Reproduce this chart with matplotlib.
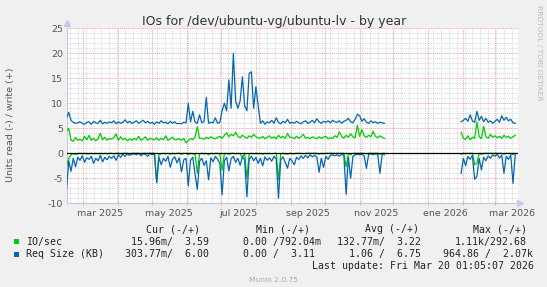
import numpy as np
import pandas as pd
import matplotlib
matplotlib.use('Agg')
import matplotlib.pyplot as plt
import matplotlib.dates as mdates
from matplotlib.patches import Rectangle

W, H = 547, 287
nan = np.nan

# ---------------- data (2-day samples, 2025-02-14 .. 2026-03-19) ----------------
start_date = '2025-02-14'
n_points = 200
gap_len = 33  # no data from late Nov 2025 to end of Jan 2026

req_write_a = [
    7.0, 8.2, 6.6, 6.2, 6.0, 6.1, 6.3, 6.0, 5.8, 6.2,
    6.3, 5.8, 6.4, 6.1, 6.0, 6.6, 5.9, 6.2, 6.0, 6.3,
    6.1, 6.5, 5.9, 6.3, 6.0, 6.2, 6.7, 6.1, 6.4, 6.0,
    6.2, 6.5, 6.0, 6.3, 6.6, 6.1, 6.4, 6.0, 6.2, 5.8,
    6.3, 6.0, 6.5, 6.1, 6.2, 5.9, 6.4, 6.0, 6.3, 5.9,
    6.0, 5.9, 6.2, 6.1, 10.0, 6.3, 8.4, 6.2, 6.0, 7.7,
    6.1, 6.4, 11.2, 6.0, 6.2, 6.1, 7.1, 6.0, 6.2, 8.5,
    10.0, 8.5, 14.7, 9.0, 20.0, 10.5, 9.0, 10.5, 15.3, 9.5,
    8.5, 16.0, 16.3, 9.0, 13.3, 9.5, 6.0, 6.5, 5.8, 6.3,
    6.1, 6.6, 6.0, 7.1, 6.2, 5.9, 6.4, 6.1, 6.8, 6.0,
    6.2, 6.0, 6.4, 6.1, 5.9, 6.3, 6.5, 6.0, 6.2, 6.6,
    6.1, 6.9, 6.3, 6.0, 6.4, 6.2, 6.5, 6.1, 6.6, 6.3,
    6.2, 6.5, 6.0, 6.4, 6.6, 7.0, 6.3, 6.1, 6.8, 7.8,
    7.5, 6.4, 6.9, 6.2, 6.0, 6.5, 6.1, 6.3, 6.0, 6.2, 6.1, 6.0,
]
req_write_b = [
    6.3, 6.6, 7.0, 6.4, 7.7, 6.5, 6.2, 8.4, 6.6, 7.4,
    6.3, 7.0, 6.2, 6.5, 6.0, 6.4, 6.8, 6.2, 7.5, 6.6,
    7.2, 6.5, 6.8, 6.1, 6.0,
]

io_write_a = [
    4.4, 5.0, 2.6, 2.4, 3.2, 2.6, 2.8, 2.5, 3.4, 2.7,
    3.6, 2.6, 3.0, 2.5, 2.9, 4.0, 2.7, 3.2, 2.6, 3.0,
    2.8, 3.1, 3.9, 2.6, 3.3, 2.7, 3.0, 2.5, 2.9, 2.6,
    3.0, 2.7, 3.4, 2.6, 2.9, 3.3, 2.6, 3.0, 2.8, 2.7,
    3.1, 2.6, 3.0, 2.7, 3.5, 2.6, 2.9, 3.2, 2.7, 2.8,
    2.9, 2.6, 3.0, 2.1, 2.5, 3.0, 2.7, 3.3, 5.3, 3.0,
    3.0, 2.8, 3.2, 2.9, 3.3, 3.0, 2.9, 3.2, 3.4, 3.0,
    3.6, 4.1, 3.3, 3.8, 3.5, 4.2, 3.4, 3.1, 3.6, 3.3,
    3.0, 3.5, 3.2, 3.8, 3.3, 3.1, 3.0, 3.4, 2.9, 3.2,
    3.5, 3.0, 3.3, 2.9, 3.6, 3.1, 3.4, 3.0, 4.0, 3.2,
    3.2, 2.9, 3.4, 3.0, 3.3, 3.8, 3.0, 3.2, 2.9, 3.3,
    3.1, 2.9, 3.3, 3.0, 3.2, 3.4, 2.9, 3.1, 3.0, 3.5,
    3.2, 4.3, 3.4, 3.0, 3.6, 3.2, 3.9, 3.3, 3.1, 5.6,
    3.4, 4.7, 3.5, 3.2, 3.6, 3.3, 4.4, 3.4, 3.1, 3.5, 3.2, 3.0,
]
io_write_b = [
    4.2, 3.0, 2.8, 3.5, 2.7, 3.2, 3.0, 6.3, 3.4, 2.9,
    5.4, 3.3, 3.0, 3.8, 3.2, 3.5, 3.1, 3.4, 3.0, 3.6,
    3.2, 3.4, 3.0, 3.3, 3.6,
]

req_read_a = [
    -7.4, -1.5, -3.6, -1.0, -2.7, -0.8, -1.4, -0.5, -1.8, -0.9,
    -1.2, -0.6, -2.0, -1.0, -1.5, -0.4, -1.7, -0.8, -1.3, -0.6,
    -1.0, -0.5, -1.4, -0.3, -0.8, -0.2, -0.6, -0.1, -0.4, -0.2,
    -0.1, -0.3, 0.0, -0.5, -0.1, -0.2, -0.6, 0.0, -0.3, -0.1,
    -5.9, -0.8, -2.3, -1.0, -1.6, -0.6, -2.8, -1.2, -0.7, -1.9,
    -0.9, -3.7, -1.3, -1.0, -6.5, -1.4, -0.8, -4.2, -7.2, -1.6,
    -1.0, -2.4, -1.5, -5.3, -0.9, -1.7, -0.6, -1.2, -2.0, -8.3,
    -1.5, -0.8, -3.5, -1.1, -0.6, -1.8, -1.0, -2.4, -0.7, -1.3,
    -8.7, -1.2, -0.6, -1.5, -0.8, -2.0, -1.0, -2.5, -0.7, -1.4,
    -0.9, -1.6, -0.6, -1.1, -9.0, -1.3, -0.7, -1.8, -3.0, -1.0,
    -1.5, -2.3, -0.8, -1.2, -0.5, -1.0, -0.4, -0.9, -0.3, -0.7,
    -0.4, -0.7, -3.8, -1.0, -2.8, -0.6, -1.2, -0.4, -0.3, -0.5,
    -0.3, -0.6, -0.2, -0.4, -8.2, -0.8, -5.0, -0.6, -0.3, -0.2,
    -0.3, -0.2, -0.5, -3.0, -0.2, -0.1, -0.3, -0.1, -0.2, -4.0, -0.1, -0.3,
]
req_read_b = [
    -4.0, -1.0, -2.5, -0.6, -1.2, -0.4, -5.2, -4.6, -1.0, -3.3,
    -0.8, -1.5, -0.5, -1.0, -0.3, -0.6, -0.2, -0.9, -0.4, -4.0,
    -0.6, -1.2, -0.3, -6.0, -0.3,
]

io_read_a = [
    -2.5, -1.0, -0.3, -0.1, -0.2, -0.1, 0.0, -0.1, 0.0, -0.1,
    -0.1, 0.0, -0.1, 0.0, -0.1, 0.0, -0.1, 0.0, -0.1, 0.0,
    0.0, -0.1, 0.0, 0.0, -0.1, 0.0, 0.0, 0.0, -0.1, 0.0,
    0.0, 0.0, 0.0, -0.1, 0.0, 0.0, 0.0, 0.0, 0.0, 0.0,
    -5.7, -0.2, -0.1, 0.0, -0.1, 0.0, -0.2, 0.0, -0.1, 0.0,
    0.0, -0.2, 0.0, 0.0, -0.3, 0.0, -0.1, -0.2, -4.0, -0.1,
    0.0, -0.1, 0.0, -0.3, 0.0, -0.1, 0.0, 0.0, -0.1, -3.4,
    -0.1, 0.0, -0.2, 0.0, 0.0, -0.1, 0.0, -0.1, -0.8, 0.0,
    -5.0, -0.1, 0.0, -0.1, 0.0, -0.1, 0.0, -0.2, 0.0, -0.1,
    0.0, -0.1, 0.0, 0.0, -5.3, -0.1, 0.0, -0.1, -0.2, 0.0,
    -0.1, -0.1, 0.0, 0.0, 0.0, -0.1, 0.0, 0.0, 0.0, 0.0,
    0.0, 0.0, -0.2, 0.0, -0.1, 0.0, 0.0, 0.0, 0.0, 0.0,
    0.0, 0.0, 0.0, 0.0, -2.7, 0.0, -0.3, 0.0, 0.0, 0.0,
    0.0, 0.0, 0.0, -0.1, 0.0, 0.0, 0.0, 0.0, 0.0, -0.2, 0.0, 0.0,
]
io_read_b = [
    -0.2, 0.0, -0.1, 0.0, 0.0, 0.0, -2.3, -2.0, 0.0, -0.2,
    0.0, 0.0, 0.0, 0.0, 0.0, 0.0, 0.0, 0.0, 0.0, -0.2,
    0.0, 0.0, 0.0, -0.3, 0.0,
]

y_ticks = [-10, -5, 0, 5, 10, 15, 20, 25]
x_labels = ['mar 2025', 'may 2025', 'jul 2025', 'sep 2025', 'nov 2025', 'ene 2026', 'mar 2026']
x_label_dates = ['2025-03-16', '2025-05-16', '2025-07-16', '2025-09-16', '2025-11-16', '2026-01-16', '2026-03-16']

legend_headers = ['Cur (-/+)', 'Min (-/+)', 'Avg (-/+)', 'Max (-/+)']
legend_names = ['IO/sec', 'Req Size (KB)']
legend_values = [
    ['15.96m/  3.59', '0.00 /792.04m', '132.77m/  3.22', '1.11k/292.68'],
    ['303.77m/  6.00', '0.00 /  3.11', '1.06 /  6.75', '964.86 /  2.07k'],
]
colors = ['#00CC00', '#0066B3']


def full(a, b):
    return np.array(a + [nan] * gap_len + b, dtype=float)


dates = pd.date_range(start_date, periods=n_points, freq='2D')
io_w = full(io_write_a, io_write_b)
io_r = full(io_read_a, io_read_b)
rq_w = full(req_write_a, req_write_b)
rq_r = full(req_read_a, req_read_b)

# ---------------- figure ----------------
fig = plt.figure(figsize=(W / 100, H / 100), dpi=100, facecolor='#F0F0F0')
ax = fig.add_axes([66.5 / W, (H - 203.3) / H, 451 / W, 175 / H])
ax.set_facecolor('#FFFFFF')

x0 = pd.Timestamp('2025-02-14')
x1 = pd.Timestamp('2026-03-21')
ax.set_xlim(x0, x1)
ax.set_ylim(-10, 25)

# grid
minor_c = '#D8D8D8'
major_c = '#F2A0A0'
dot = (0, (1, 1))
for v in range(-10, 26):
    if v % 5 == 0:
        continue
    ax.axhline(v, color=minor_c, lw=0.7, ls=dot, zorder=1)
for wk in pd.date_range('2025-02-17', x1, freq='7D'):
    ax.axvline(wk, color=minor_c, lw=0.7, ls=dot, zorder=1)
for v in y_ticks:
    ax.axhline(v, color=major_c, lw=0.7, ls=dot, zorder=1.5)
months = pd.date_range('2025-03-01', x1, freq='MS')
for m in months:
    ax.axvline(m, color=major_c, lw=0.7, ls=dot, zorder=1.5)

lw = 0.9
ax.plot(dates, io_r, color=colors[0], lw=lw, zorder=3)
ax.plot(dates, io_w, color=colors[0], lw=lw, zorder=3)
ax.plot(dates, rq_r, color=colors[1], lw=lw, zorder=3.5)
ax.plot(dates, rq_w, color=colors[1], lw=lw, zorder=3.5)
ax.axhline(0, color='black', lw=0.9, zorder=5)

# axes styling
for s in ['top', 'right']:
    ax.spines[s].set_visible(False)
axis_c = '#C8C8E6'
for s in ['left', 'bottom']:
    ax.spines[s].set_color(axis_c)
    ax.spines[s].set_linewidth(0.8)

ax.set_yticks(y_ticks)
ax.set_yticklabels([str(v) for v in y_ticks])
ax.set_xticks(pd.to_datetime(x_label_dates))
ax.set_xticklabels(x_labels)
ax.set_xticks(months, minor=True)
ax.tick_params(axis='both', which='major', length=0, labelsize=6.8, labelcolor='#555555', pad=2.5)
ax.tick_params(axis='x', which='major', pad=4)
ax.tick_params(axis='x', which='minor', length=2.5, direction='inout', color=major_c, width=0.7)
ax.set_ylabel('Units read (-) / write (+)', fontsize=6.8, color='#555555', labelpad=5)
ax.yaxis.set_label_coords(-0.115, (203.3 - 124.3) / 175)

# arrows
ax.plot([0], [1.03], marker='^', color=axis_c, ms=4, transform=ax.transAxes, clip_on=False, zorder=6)
ax.plot([1.006], [0], marker='>', color=axis_c, ms=4, transform=ax.transAxes, clip_on=False, zorder=6)


def ftext(x, y, s, **kw):
    return fig.text(x / W, 1 - y / H, s, **kw)


ftext(274, 24.5, 'IOs for /dev/ubuntu-vg/ubuntu-lv - by year', ha='center', va='baseline',
      fontsize=9, color='#333333')
ftext(538.5, 53, 'RRDTOOL / TOBI OETIKER', ha='center', va='center', rotation=270,
      fontsize=5.4, color='#BBBBBB')

mono = dict(family='DejaVu Sans Mono', fontsize=7.15, color='#222222', va='center')
hdr_x = [146.5, 255.8, 364.6, 472.8]
for hx, ht in zip(hdr_x, legend_headers):
    ftext(hx, 229, ht, **mono)

row_y = [241.9, 254.1]
val_x = [[131.2, 243.2, 337.4, 454.6], [125.2, 243.2, 349.2, 442.6]]
for r in range(2):
    y = row_y[r]
    fig.patches.append(Rectangle((14 / W, 1 - (y + 2.5) / H), 5 / W, 5 / H,
                                 transform=fig.transFigure, facecolor=colors[r],
                                 edgecolor='none'))
    ftext(26.2, y, legend_names[r], **mono)
    for vx, vt in zip(val_x[r], legend_values[r]):
        ftext(vx, y, vt, **mono)

ftext(311.6, 266.3, 'Last update: Fri Mar 20 01:05:07 2026', **mono)
ftext(273, 279.6, 'Munin 2.0.75', ha='center', va='center', fontsize=5.4, color='#AAAAAA')

fig.savefig('out.png', dpi=100, facecolor=fig.get_facecolor())
